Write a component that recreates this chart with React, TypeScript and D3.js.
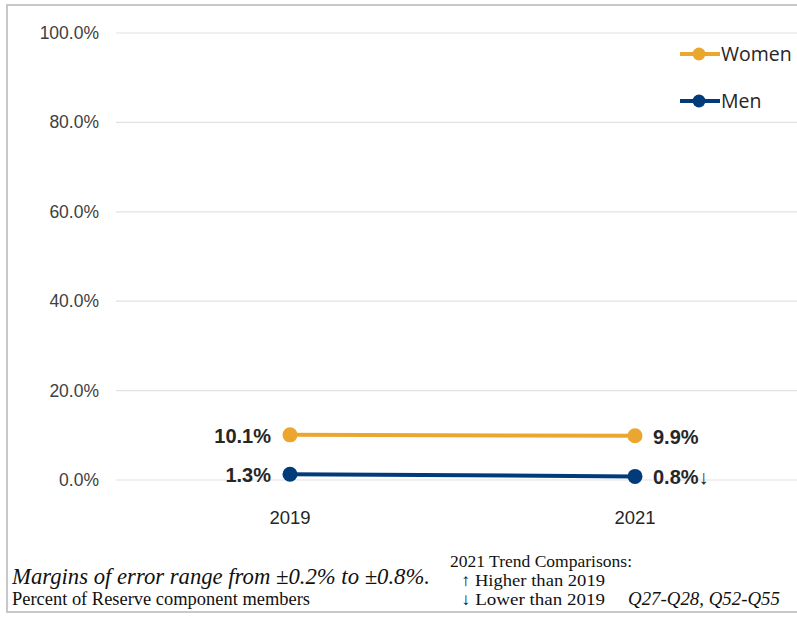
import React from "react";
import * as d3 from "d3";

const years = ["2019", "2021"];
const women = [10.1, 9.9];
const men = [1.3, 0.8];
const womenLabels = ["10.1%", "9.9%"];
const menLabels = ["1.3%", "0.8%↓"];
const yTicks = [0, 20, 40, 60, 80, 100];

const W = 797, H = 618;
const WOMEN_C = "#EBA630";
const MEN_C = "#023B7A";
const SANS = "'Liberation Sans', Arial, sans-serif";
const SERIF = "'Liberation Serif', 'Times New Roman', serif";

export default function App() {
  const x = d3.scalePoint<string>().domain(years).range([290, 635]);
  const y = d3.scaleLinear().domain([0, 100]).range([480, 33]);
  const line = d3.line<number>().x((_, i) => x(years[i])!).y(d => y(d));
  const series = [
    { name: "Women", vals: women, labels: womenLabels, color: WOMEN_C },
    { name: "Men", vals: men, labels: menLabels, color: MEN_C },
  ];
  return (
    <svg width={W} height={H} style={{ position: "absolute", left: 0, top: 0 }}>
      <rect x={0} y={0} width={W} height={H} fill="#fff" />
      <rect x={7} y={5} width={W} height={607} fill="none" stroke="#c8c8c8" strokeWidth={2} />
      {yTicks.map(t => (
        <g key={t}>
          <line x1={116} x2={W} y1={y(t)} y2={y(t)} stroke="#e2e2e2" strokeWidth={1.2} />
          <text x={99} y={y(t) + 6} textAnchor="end" fontFamily={SANS} fontSize={17.5} fill="#404040">
            {t.toFixed(1)}%
          </text>
        </g>
      ))}
      {years.map(yr => (
        <text key={yr} x={x(yr)} y={524} textAnchor="middle" fontFamily={SANS} fontSize={18.5} fill="#262626">{yr}</text>
      ))}
      {series.map(s => (
        <g key={s.name}>
          <path d={line(s.vals)!} fill="none" stroke={s.color} strokeWidth={4} />
          {s.vals.map((v, i) => (
            <circle key={i} cx={x(years[i])} cy={y(v)} r={7.5} fill={s.color} />
          ))}
          <text x={x(years[0])! - 19} y={y(s.vals[0]) + 8} textAnchor="end" fontFamily={SANS} fontWeight="bold" fontSize={20} fill="#262626">{s.labels[0]}</text>
          <text x={x(years[1])! + 18} y={y(s.vals[1]) + 8} textAnchor="start" fontFamily={SANS} fontWeight="bold" fontSize={20} fill="#262626">{s.labels[1]}</text>
        </g>
      ))}
      {series.map((s, i) => (
        <g key={s.name} transform={`translate(680, ${54 + i * 47})`}>
          <line x1={0} x2={40} y1={0} y2={0} stroke={s.color} strokeWidth={4} />
          <circle cx={19} cy={0} r={6.5} fill={s.color} />
          <text x={41} y={7} fontFamily="'Open Sans', sans-serif" fontSize={19.5} fill="#262626">{s.name}</text>
        </g>
      ))}
      <text x={12} y={584} textLength={418} lengthAdjust="spacingAndGlyphs" fontFamily={SERIF} fontStyle="italic" fontSize={24} fill="#111">Margins of error range from ±0.2% to ±0.8%.</text>
      <text x={12} y={605} textLength={298} lengthAdjust="spacingAndGlyphs" fontFamily={SERIF} fontSize={18} fill="#111">Percent of Reserve component members</text>
      <text x={450} y={567} textLength={182} lengthAdjust="spacingAndGlyphs" fontFamily={SERIF} fontSize={17} fill="#111">2021 Trend Comparisons:</text>
      <text x={461} y={586} textLength={144} lengthAdjust="spacingAndGlyphs" fontFamily={SERIF} fontSize={17} fill="#111">↑ Higher than 2019</text>
      <text x={461} y={605} textLength={144} lengthAdjust="spacingAndGlyphs" fontFamily={SERIF} fontSize={17} fill="#111">↓ Lower than 2019</text>
      <text x={628} y={605} textLength={152} lengthAdjust="spacingAndGlyphs" fontFamily={SERIF} fontStyle="italic" fontSize={19} fill="#111">Q27-Q28, Q52-Q55</text>
    </svg>
  );
}
